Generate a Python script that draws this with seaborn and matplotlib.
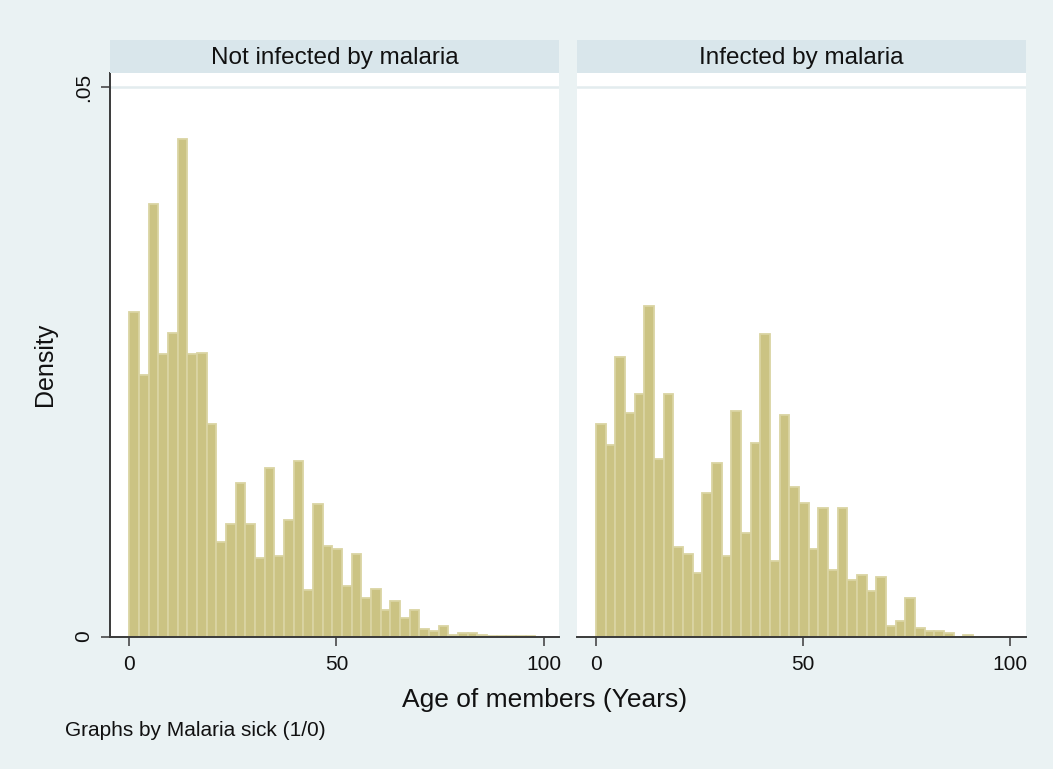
import numpy as np
import pandas as pd
import matplotlib
matplotlib.use("Agg")
import matplotlib.pyplot as plt
import seaborn as sns

# ---------------- data (density per age bin) ----------------
age_max = 98
n_bins = 42
panel_titles = ["Not infected by malaria", "Infected by malaria"]

not_infected = [0.02955, 0.02382, 0.03937, 0.02573, 0.02764, 0.04530, 0.02573, 0.02582,
                0.01936, 0.00862, 0.01025, 0.01397, 0.01025, 0.00714, 0.01533, 0.00733,
                0.01062, 0.01598, 0.00425, 0.01207, 0.00825, 0.00800, 0.00464, 0.00747,
                0.00346, 0.00434, 0.00237, 0.00319, 0.00164, 0.00237, 0.00064, 0.00046,
                0.00100, 0.00018, 0.00036, 0.00036, 0.00010, 0.00005, 0.00005, 0.00003,
                0.00005, 0.00003]
infected = [0.01936, 0.01745, 0.02546, 0.02036, 0.02209, 0.03013, 0.01618, 0.02209,
            0.00816, 0.00753, 0.00580, 0.01302, 0.01575, 0.00735, 0.02055, 0.00944,
            0.01763, 0.02756, 0.00689, 0.02018, 0.01363, 0.01217, 0.00798, 0.01172,
            0.00607, 0.01172, 0.00516, 0.00562, 0.00416, 0.00543, 0.00097, 0.00143,
            0.00352, 0.00079, 0.00052, 0.00052, 0.00034, 0.0, 0.00015, 0.0,
            0.0, 0.0]
x_ticks = [0, 50, 100]
x_ticklabels = ["0", "50", "100"]
y_ticks = [0, 0.05]
y_ticklabels = ["0", ".05"]

bin_width = age_max / n_bins
centers = (np.arange(n_bins) + 0.5) * bin_width

# ---------------- style ----------------
sns.set_theme(style="white")
plt.rcParams["font.family"] = ["Liberation Sans", "DejaVu Sans"]

BG = "#EAF2F3"
STRIP = "#D9E6EB"
FILL = "#CBC383"
EDGE = "#DAD4A3"
AXC = "#3A3A3A"

W, H = 1053, 769
fig = plt.figure(figsize=(W / 100, H / 100), dpi=100, facecolor=BG)

def fx(px):
    return px / W

def fy(py):
    return 1 - py / H

panels = [(110, 559), (576.7, 1025.7)]
top_px, bot_px = 73, 636.5
strip_top = 40

series = [not_infected, infected]
for i, ((x0, x1), vals, title) in enumerate(zip(panels, series, panel_titles)):
    ax = fig.add_axes([fx(x0), fy(bot_px), fx(x1 - x0), (bot_px - top_px) / H])
    ax.set_facecolor("white")
    df = pd.DataFrame({"age": centers, "density": vals})
    sns.histplot(data=df, x="age", weights="density", binwidth=bin_width,
                 binrange=(0, age_max), stat="count",
                 ax=ax, color=FILL, edgecolor=EDGE, linewidth=1.3, alpha=1,
                 shrink=1)
    ax.set_xlim(-4.65, 103.7)
    ax.set_ylim(0, 0.0513)
    ax.axhline(0.05, color="#E3ECEE", lw=1.8, zorder=0.5)
    ax.set_xlabel("")
    ax.set_ylabel("")
    for s in ["top", "right"]:
        ax.spines[s].set_visible(False)
    ax.spines["bottom"].set_color(AXC)
    ax.spines["bottom"].set_linewidth(1.4)
    ax.set_xticks(x_ticks)
    ax.set_xticklabels(x_ticklabels, fontsize=15, color="#111111")
    ax.tick_params(axis="x", length=6.5, width=1.1, color=AXC, pad=7, bottom=True)
    if i == 0:
        ax.spines["left"].set_color(AXC)
        ax.spines["left"].set_linewidth(1.4)
        ax.set_yticks(y_ticks)
        ax.set_yticklabels(y_ticklabels, fontsize=15, rotation=90, va="center",
                           color="#111111")
        ax.tick_params(axis="y", length=6.5, width=1.1, color=AXC, pad=6, left=True)
    else:
        ax.spines["left"].set_visible(False)
        ax.set_yticks([])
    ax.grid(False)

    sax = fig.add_axes([fx(x0), fy(top_px), fx(x1 - x0), (top_px - strip_top) / H])
    sax.set_facecolor(STRIP)
    sax.set_xticks([])
    sax.set_yticks([])
    for s in sax.spines.values():
        s.set_visible(False)
    sax.text(0.5, 0.45, title, ha="center", va="center", fontsize=17.5,
             color="#111111", transform=sax.transAxes)

fig.text(fx(45), fy(364), "Density", rotation=90, ha="center", va="center",
         fontsize=18, color="#111111")
fig.text(fx(545), fy(700), "Age of members (Years)", ha="center", va="center",
         fontsize=19, color="#111111")
fig.text(fx(65), fy(731), "Graphs by Malaria sick (1/0)", ha="left", va="center",
         fontsize=15, color="#111111")

fig.savefig("out.png", dpi=100, facecolor=BG)
